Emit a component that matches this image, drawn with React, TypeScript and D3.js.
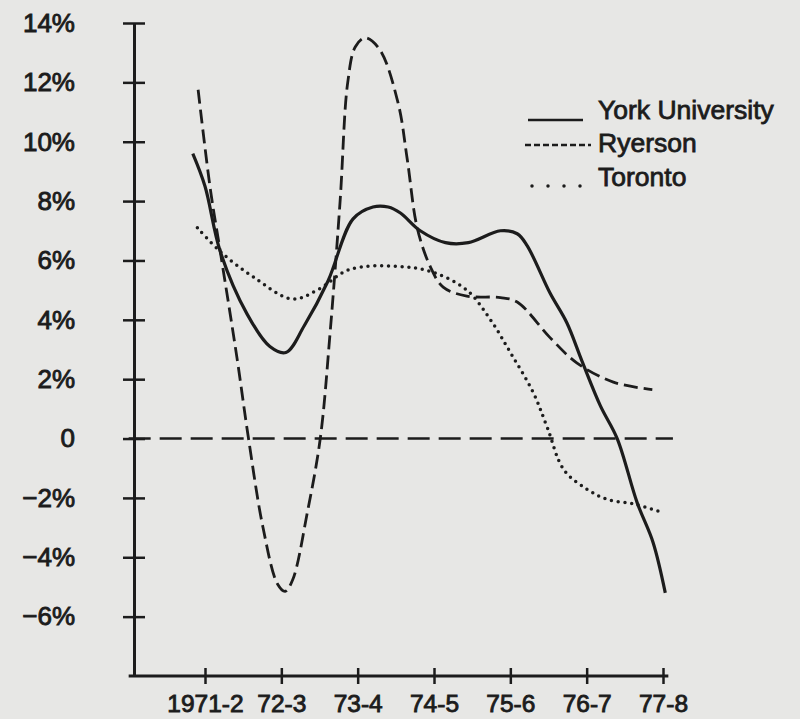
import React, { useEffect, useRef } from 'react';
import * as d3 from 'd3';

// academic years along the bottom axis
const periods = ['1971-2', '72-3', '73-4', '74-5', '75-6', '76-7', '77-8'];
const yTicks = [14, 12, 10, 8, 6, 4, 2, 0, -2, -4, -6];

// [position on period axis, % change]
const york: [number, number][] = [
  [-0.16, 9.6], [0.0, 8.5], [0.2, 6.3], [0.55, 4.2], [0.85, 3.1], [1.06, 2.9],
  [1.3, 3.8], [1.61, 5.3], [1.94, 7.4], [2.2, 7.8], [2.4, 7.8], [2.56, 7.6],
  [2.82, 7.0], [3.15, 6.6], [3.45, 6.6], [3.87, 7.0], [4.09, 6.9], [4.22, 6.5],
  [4.52, 4.9], [4.74, 3.9], [4.94, 2.6], [5.18, 1.1], [5.4, 0.0], [5.66, -2.15],
  [5.87, -3.5], [6.03, -5.2],
];

const ryerson: [number, number][] = [
  [-0.09, 11.75], [0.07, 8.4], [0.2, 6.3], [0.42, 2.7], [0.57, 0.0], [0.76, -3.0],
  [0.95, -4.9], [1.05, -5.15], [1.15, -4.75], [1.34, -2.5], [1.51, 0.0], [1.64, 3.6],
  [1.77, 8.0], [1.87, 12.0], [1.97, 13.2], [2.1, 13.5], [2.29, 13.1], [2.53, 11.3],
  [2.65, 9.4], [2.78, 7.1], [2.95, 5.8], [3.12, 5.1], [3.43, 4.8], [3.87, 4.75],
  [4.09, 4.6], [4.52, 3.4], [4.87, 2.55], [5.35, 1.9], [5.86, 1.65],
];

const toronto: [number, number][] = [
  [-0.1, 7.1], [0.2, 6.3], [0.63, 5.45], [1.14, 4.7], [1.47, 5.0], [1.9, 5.7],
  [2.52, 5.8], [2.99, 5.6], [3.43, 5.0], [3.74, 4.0], [4.0, 2.9], [4.3, 1.55],
  [4.48, 0.4], [4.7, -1.05], [5.0, -1.7], [5.27, -2.05], [5.61, -2.2], [5.94, -2.45],
];

const legendNames = ['York University', 'Ryerson', 'Toronto'];

const ink = '#1c1c1c';
const font = '"Liberation Sans", Arial, sans-serif';

const App = () => {
  const svgRef = useRef<SVGSVGElement>(null);

  useEffect(() => {
    const width = 800;
    const height = 719;

    const svg = d3.select(svgRef.current);
    svg.selectAll('*').remove();
    svg.attr('width', width).attr('height', height);

    svg.append('rect')
      .attr('width', width)
      .attr('height', height)
      .attr('fill', '#e7e7e5');

    const x = d3.scaleLinear().domain([0, 6]).range([205, 663]);
    const y = d3.scaleLinear().domain([-8, 14]).range([676, 23]);

    // y axis, ticks cross the line
    const yAxis = svg.append('g')
      .attr('transform', 'translate(134,0)')
      .call(
        d3.axisLeft(y)
          .tickValues(yTicks)
          .tickSize(11)
          .tickSizeOuter(0)
          .tickPadding(48)
          .tickFormat((d: any) => (d === 0 ? '0' : (d < 0 ? '\u2212' : '') + Math.abs(d) + '%'))
      );
    yAxis.select('.domain').attr('stroke', ink).attr('stroke-width', 3);
    yAxis.selectAll('.tick line').attr('x1', 11).attr('stroke', ink).attr('stroke-width', 2.5);
    yAxis.selectAll('.tick text')
      .attr('fill', ink)
      .attr('font-size', 26)
      .attr('font-family', font)
      .attr('stroke', ink)
      .attr('stroke-width', 0.9);

    // x axis
    const xAxis = svg.append('g')
      .attr('transform', `translate(0,${y(-8)})`)
      .call(
        d3.axisBottom(x)
          .tickValues(d3.range(periods.length))
          .tickSize(8)
          .tickSizeOuter(0)
          .tickPadding(11)
          .tickFormat((i: any) => periods[i])
      );
    xAxis.select('.domain').remove();
    xAxis.append('line')
      .attr('x1', x(-1.0))
      .attr('x2', x(6.07))
      .attr('stroke', ink)
      .attr('stroke-width', 3);
    xAxis.selectAll('.tick line').attr('y1', -8).attr('stroke', ink).attr('stroke-width', 2.5);
    xAxis.selectAll('.tick text')
      .attr('fill', ink)
      .attr('font-size', 24.5)
      .attr('font-family', font)
      .attr('stroke', ink)
      .attr('stroke-width', 0.9);

    // zero reference line
    svg.append('line')
      .attr('x1', x(-1.0))
      .attr('x2', x(6.13))
      .attr('y1', y(0))
      .attr('y2', y(0))
      .attr('stroke', ink)
      .attr('stroke-width', 2.5)
      .attr('stroke-dasharray', '22,9');

    const line = d3.line<[number, number]>()
      .x(d => x(d[0]))
      .y(d => y(d[1]))
      .curve(d3.curveCatmullRom.alpha(0.5));

    svg.append('path')
      .attr('d', line(toronto))
      .attr('fill', 'none')
      .attr('stroke', ink)
      .attr('stroke-width', 3.5)
      .attr('stroke-linecap', 'round')
      .attr('stroke-dasharray', '0,6.8');

    svg.append('path')
      .attr('d', line(ryerson))
      .attr('fill', 'none')
      .attr('stroke', ink)
      .attr('stroke-width', 2.8)
      .attr('stroke-dasharray', '14,6');

    svg.append('path')
      .attr('d', line(york))
      .attr('fill', 'none')
      .attr('stroke', ink)
      .attr('stroke-width', 3.2);

    // legend
    const legend = svg.append('g').attr('transform', 'translate(525,0)');
    const rows = [119, 152, 186];
    legend.selectAll('text')
      .data(legendNames)
      .enter().append('text')
      .attr('x', 73)
      .attr('y', (d, i) => rows[i])
      .attr('fill', ink)
      .attr('font-size', 26.5)
      .attr('font-family', font)
      .attr('stroke', ink)
      .attr('stroke-width', 0.8)
      .text(d => d);

    legend.append('line')
      .attr('x1', 3).attr('x2', 58)
      .attr('y1', 120).attr('y2', 120)
      .attr('stroke', ink).attr('stroke-width', 2.5);
    legend.append('line')
      .attr('x1', 0).attr('x2', 66)
      .attr('y1', 145).attr('y2', 145)
      .attr('stroke', ink).attr('stroke-width', 2.5)
      .attr('stroke-dasharray', '6,3');
    legend.append('line')
      .attr('x1', 7).attr('x2', 56)
      .attr('y1', 186).attr('y2', 186)
      .attr('stroke', ink).attr('stroke-width', 3.5)
      .attr('stroke-linecap', 'round')
      .attr('stroke-dasharray', '0,16');
  }, []);

  return (
    <svg ref={svgRef} style={{ position: 'absolute', left: 0, top: 0, display: 'block' }}></svg>
  );
};

export default App;
